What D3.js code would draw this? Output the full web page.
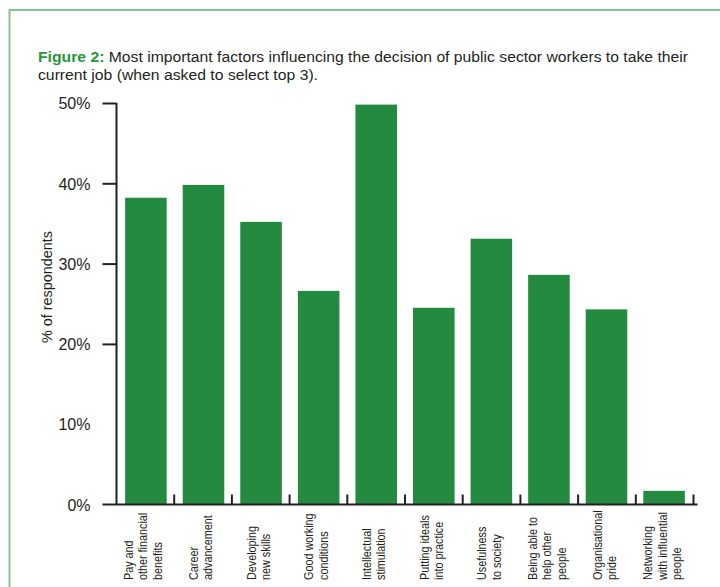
<!DOCTYPE html>
<html>
<head>
<meta charset="utf-8">
<script src="https://cdn.jsdelivr.net/npm/d3@7"></script>
<style>
  html, body { margin: 0; padding: 0; background: #ffffff; }
  svg { display: block; }
  text { font-family: "Liberation Sans", Arial, sans-serif; fill: #231f20; }
</style>
</head>
<body>
<svg id="chart" width="720" height="587"></svg>
<script>
// ---- data ----
const categories = [
  "Pay and|other financial|benefits",
  "Career|advancement",
  "Developing|new skills",
  "Good working|conditions",
  "Intellectual|stimulation",
  "Putting ideals|into practice",
  "Usefulness|to society",
  "Being able to|help other|people",
  "Organisational|pride",
  "Networking|with influential|people"
];
const values = [38.2, 39.8, 35.2, 26.6, 49.8, 24.5, 33.1, 28.6, 24.3, 1.7];
const yTicks = [0, 10, 20, 30, 40, 50];
const yTickLabels = ["0%", "10%", "20%", "30%", "40%", "50%"];
const titleBold = "Figure 2:";
const titleLine1 = " Most important factors influencing the decision of public sector workers to take their";
const titleLine2 = "current job (when asked to select top 3).";
const yAxisTitle = "% of respondents";

// ---- layout ----
const W = 720, H = 587;
const plot = { left: 116.5, right: 693.5, top: 103, bottom: 504.5 };
const barColor = "#238a40";
const titleGreen = "#25963d";
const borderColor = "#86c48f";

const svg = d3.select("#chart");

// frame border (top + left)
svg.append("path")
  .attr("d", `M9.5,${H} L9.5,10 L${W},10`)
  .attr("fill", "none")
  .attr("stroke", borderColor)
  .attr("stroke-width", 2);

// title
const t1 = svg.append("text").attr("x", 38).attr("y", 62).style("font-size", "15.5px");
t1.append("tspan").text(titleBold).style("fill", titleGreen).style("font-weight", "bold");
t1.append("tspan").text(titleLine1);
t1.attr("textLength", 650).attr("lengthAdjust", "spacingAndGlyphs");

const t2 = svg.append("text").attr("x", 38).attr("y", 80).style("font-size", "15.5px").text(titleLine2)
  .attr("textLength", 280).attr("lengthAdjust", "spacingAndGlyphs");

// scales
const x = d3.scaleBand()
  .domain(categories)
  .range([plot.left, plot.right])
  .paddingInner(0.278)
  .paddingOuter(0.15);
const xEdge = d3.scaleBand().domain(categories).range([plot.left, plot.right]).padding(0);
const y = d3.scaleLinear().domain([0, 50]).range([plot.bottom, plot.top]);

// bars
svg.append("g").selectAll("rect")
  .data(values)
  .join("rect")
  .attr("x", (d, i) => x(categories[i]))
  .attr("width", x.bandwidth())
  .attr("y", d => y(d))
  .attr("height", d => y(0) - y(d))
  .attr("fill", barColor);

// y axis
const yAxis = d3.axisLeft(y)
  .tickValues(yTicks)
  .tickFormat((d, i) => yTickLabels[i])
  .tickSize(14)
  .tickPadding(12);
const gy = svg.append("g").attr("transform", `translate(${plot.left},0)`).call(yAxis);
gy.select(".domain").attr("stroke", "#231f20").attr("stroke-width", 2)
  .attr("d", `M0,${plot.top}V${plot.bottom}`);
gy.selectAll(".tick line").attr("stroke", "#231f20").attr("stroke-width", 2)
  .attr("x1", 0)
  .style("display", d => (d === 10 || d === 0) ? "none" : null);
gy.selectAll(".tick text")
  .style("font-family", "'Liberation Sans', Arial, sans-serif")
  .style("font-size", "16px")
  .attr("fill", "#231f20")
  .attr("dy", "0.36em");

// x axis
const xAxis = d3.axisBottom(xEdge).tickSize(0).tickFormat("");
const gx = svg.append("g").attr("transform", `translate(0,${plot.bottom})`).call(xAxis);
gx.select(".domain").attr("stroke", "#231f20").attr("stroke-width", 2)
  .attr("d", `M${plot.left - 14},0H${plot.right + 4}`);
gx.selectAll(".tick").remove();
// boundary ticks pointing up
gx.selectAll("line.edge")
  .data(categories)
  .join("line")
  .attr("class", "edge")
  .attr("x1", d => xEdge(d) + xEdge.bandwidth())
  .attr("x2", d => xEdge(d) + xEdge.bandwidth())
  .attr("y1", 0)
  .attr("y2", -10)
  .attr("stroke", "#231f20")
  .attr("stroke-width", 2);

// x category labels (rotated, multi-line)
const lineH = 14.5;
const labels = svg.append("g");
categories.forEach(c => {
  const lines = c.split("|");
  const cx = xEdge(c) + xEdge.bandwidth() / 2 - 2;
  const firstBase = cx - (lines.length - 1) * lineH / 2 + 4;
  const g = labels.append("g").attr("transform", `translate(${firstBase},580) rotate(-90) scale(0.9,1)`);
  lines.forEach((ln, j) => {
    g.append("text")
      .attr("x", 0)
      .attr("y", j * lineH)
      .style("font-size", "12px")
      .text(ln);
  });
});

// y axis title
svg.append("text")
  .attr("transform", `translate(52,287) rotate(-90) scale(0.93,1)`)
  .attr("text-anchor", "middle")
  .style("font-size", "15.5px")
  .text(yAxisTitle);
</script>
</body>
</html>
